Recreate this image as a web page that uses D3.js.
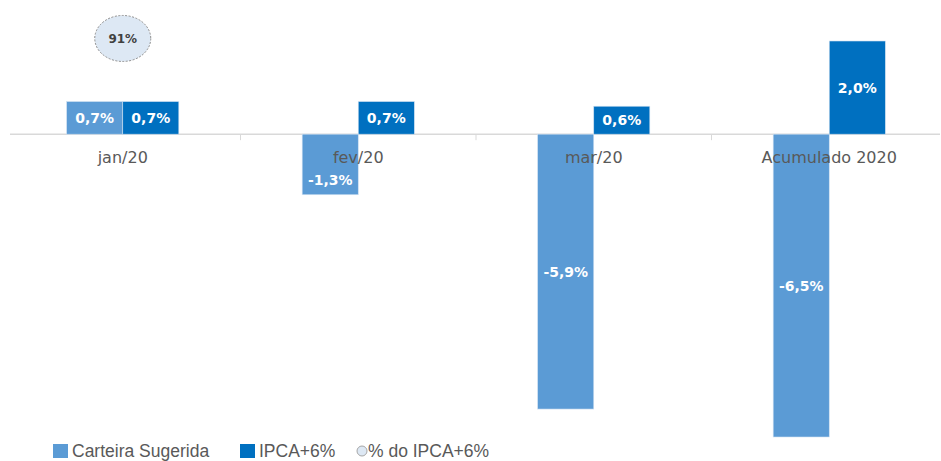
<!DOCTYPE html>
<meta charset="utf-8">
<script src="https://d3js.org/d3.v7.min.js"></script>
<style>
  body { margin: 0; background: #fff; }
  .cat { font: 16px "DejaVu Sans", Verdana, sans-serif; fill: #595959; }
  .lbl { font: bold 14px "DejaVu Sans", Verdana, sans-serif; fill: #fff; }
  .legend text { font: 17.5px "Liberation Sans", Arial, sans-serif; fill: #595959; }
</style>
<div id="chart"></div>
<script>
var categories = ["jan/20", "fev/20", "mar/20", "Acumulado 2020"];
var series = ["Carteira Sugerida", "IPCA+6%"];
var carteira = [0.7, -1.3, -5.9, -6.5];
var ipca = [0.7, 0.7, 0.6, 2.0];
var pctIpca = [0.91, null, null, null];
var colors = ["#5b9bd5", "#0070c0"];

var width = 941, height = 461;

var svg = d3.select("#chart").append("svg")
  .attr("width", width)
  .attr("height", height);

var x = d3.scaleBand()
  .domain(categories)
  .range([5, 947])
  .padding(0);

var xs = d3.scaleBand()
  .domain(series)
  .range([0, x.bandwidth()])
  .paddingOuter(1.1)
  .paddingInner(0);

var y = d3.scaleLinear()
  .domain([-6.5, 2.0])
  .range([437, 41]);

// secondary axis for the % bubble
var y2 = d3.scaleLinear()
  .domain([0, 1])
  .range([y(0), 29]);

var fmt = function(v) { return d3.format(".1f")(v).replace(".", ",").replace("−", "-") + "%"; };

var rows = categories.map(function(c, i) {
  return { cat: c, values: [carteira[i], ipca[i]], pct: pctIpca[i] };
});

// axis line
svg.append("line")
  .attr("x1", 10).attr("x2", 940)
  .attr("y1", y(0)).attr("y2", y(0))
  .attr("stroke", "#d9d9d9").attr("stroke-width", 1.5);

// separators between categories
svg.selectAll(".sep")
  .data(categories.slice(1))
  .enter().append("line")
  .attr("x1", function(d) { return x(d); })
  .attr("x2", function(d) { return x(d); })
  .attr("y1", y(0)).attr("y2", y(0) + 6)
  .attr("stroke", "#d9d9d9");

var g = svg.selectAll(".grp")
  .data(rows)
  .enter().append("g")
  .attr("transform", function(d) { return "translate(" + x(d.cat) + ",0)"; });

var bars = g.selectAll("g.bar")
  .data(function(d) { return d.values.map(function(v, j) { return { s: series[j], v: v, j: j }; }); })
  .enter().append("g");

bars.append("rect")
  .attr("x", function(d) { return xs(d.s); })
  .attr("width", xs.bandwidth())
  .attr("y", function(d) { return y(Math.max(0, d.v)); })
  .attr("height", function(d) { return Math.abs(y(d.v) - y(0)); })
  .attr("fill", function(d) { return colors[d.j]; })
  .attr("stroke", "#cfe0f1")
  .attr("stroke-width", 0.6);

bars.append("text")
  .attr("class", "lbl")
  .attr("x", function(d) { return xs(d.s) + xs.bandwidth() / 2; })
  .attr("y", function(d) {
    var mid = (y(d.v) + y(0)) / 2;
    if (d.v < 0) mid = Math.max(mid, y(0) + 46);
    return mid;
  })
  .attr("dy", "0.36em")
  .attr("text-anchor", "middle")
  .text(function(d) { return fmt(d.v); });

// category labels
g.append("text")
  .attr("class", "cat")
  .attr("x", x.bandwidth() / 2)
  .attr("y", y(0) + 29)
  .attr("text-anchor", "middle")
  .text(function(d) { return d.cat; });

// % do IPCA+6% bubble
var bub = g.filter(function(d) { return d.pct != null; });
bub.append("ellipse")
  .attr("cx", x.bandwidth() / 2)
  .attr("cy", function(d) { return y2(d.pct); })
  .attr("rx", 28).attr("ry", 23)
  .attr("fill", "#dde8f4")
  .attr("stroke", "#8c8c8c")
  .attr("stroke-dasharray", "2,1.5")
  .attr("stroke-width", 1);
bub.append("text")
  .attr("x", x.bandwidth() / 2)
  .attr("y", function(d) { return y2(d.pct); })
  .attr("dy", "0.36em")
  .attr("text-anchor", "middle")
  .style("font", "bold 12px 'DejaVu Sans', sans-serif")
  .style("fill", "#404040")
  .text(function(d) { return Math.round(d.pct * 100) + "%"; });

// legend
var legendItems = [
  { name: series[0], type: "rect", color: colors[0], x: 53 },
  { name: series[1], type: "rect", color: colors[1], x: 240 },
  { name: "% do IPCA+6%", type: "circle", color: "#dde8f4", x: 356 }
];
var lg = svg.append("g").attr("class", "legend");
var li = lg.selectAll("g").data(legendItems).enter().append("g")
  .attr("transform", function(d) { return "translate(" + d.x + ",0)"; });
li.filter(function(d) { return d.type === "rect"; })
  .append("rect")
  .attr("x", 0).attr("y", 444).attr("width", 15).attr("height", 14)
  .attr("fill", function(d) { return d.color; });
li.filter(function(d) { return d.type === "circle"; })
  .append("circle")
  .attr("cx", 6).attr("cy", 451).attr("r", 5)
  .attr("fill", function(d) { return d.color; })
  .attr("stroke", "#a6a6a6");
li.append("text")
  .attr("x", function(d) { return d.type === "rect" ? 19 : 12; })
  .attr("y", 457)
  .text(function(d) { return d.name; });
</script>
